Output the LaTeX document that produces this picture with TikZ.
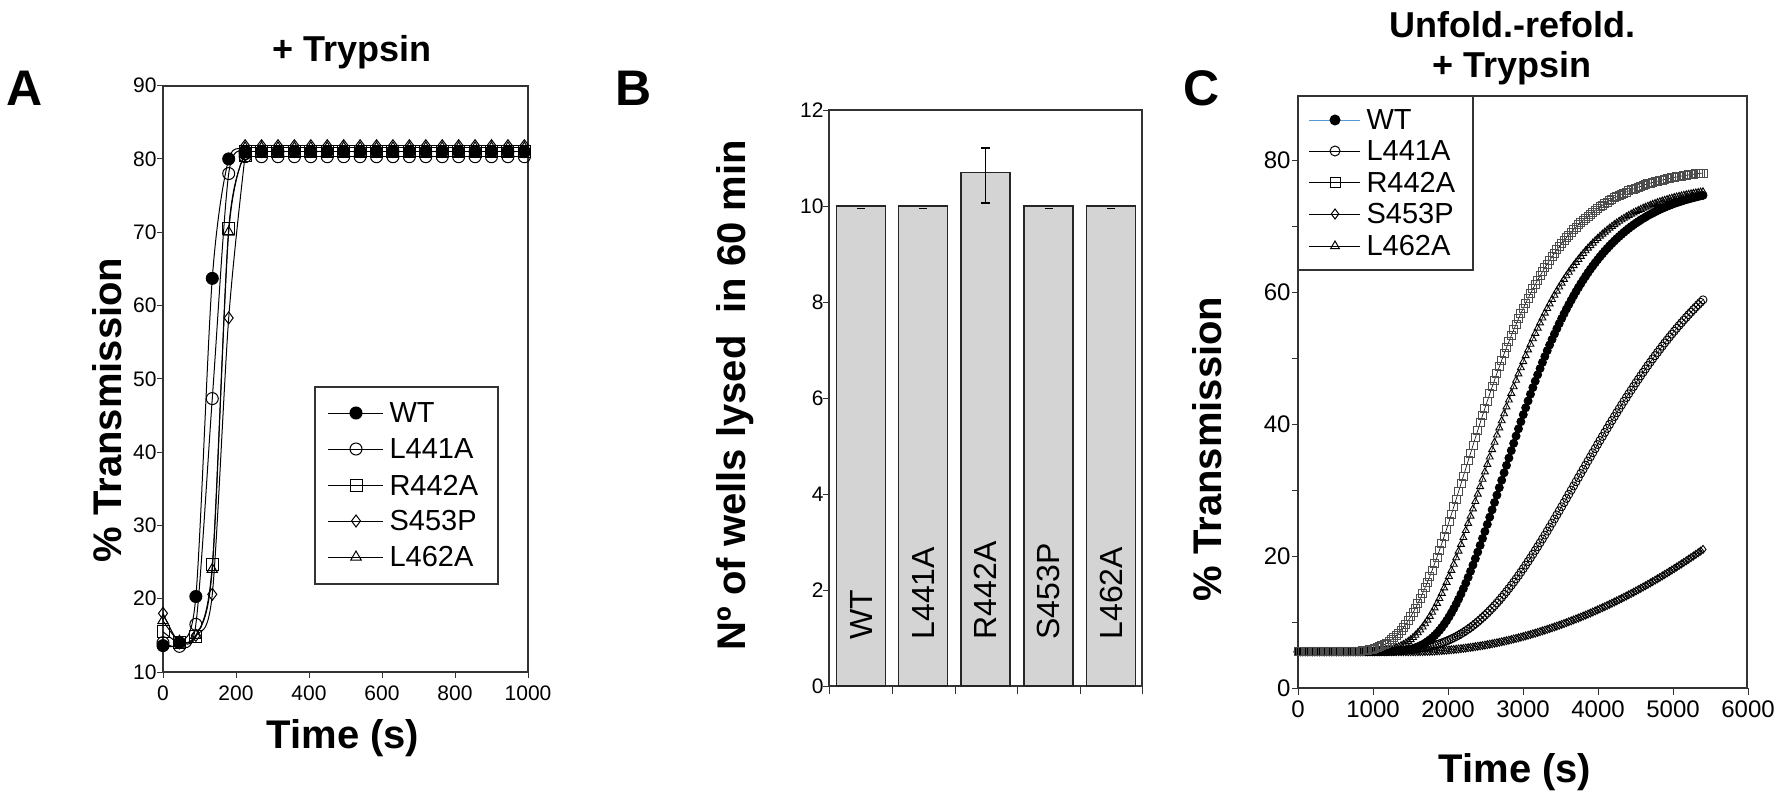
\documentclass[tikz,border=0pt]{standalone}
\usepackage{fontspec}
\setmainfont{Liberation Sans}
\usetikzlibrary{plotmarks}
\begin{document}
\begin{tikzpicture}[x=1pt,y=-1pt,
  declare function={ax(\t)=163+0.365*\t; ay(\v)=672-7.33*(\v-10);
    cx(\t)=1298+0.075*\t; cy(\v)=688-6.6*\v;
    gz(\t,\a,\m,\w)=5.5+\a*exp(-exp(-(\t-\m)/\w));},
  axisln/.style={draw=black!80,line width=1.3pt},
  tk/.style={font=\fontsize{21}{21}\selectfont},
  tkc/.style={font=\fontsize{24}{24}\selectfont},
  bl/.style={font=\fontsize{40}{40}\selectfont\bfseries},
  letter/.style={font=\fontsize{50}{50}\selectfont\bfseries},
  ttl/.style={font=\fontsize{36}{40}\selectfont\bfseries,align=center},
  leg/.style={font=\fontsize{29}{29}\selectfont,anchor=west},
  serA/.style={draw=black,line width=1pt,mark size=6,mark options={line width=1pt}},
  serC/.style={line width=0.6pt,mark size=4,mark options={line width=0.9pt}},
  bar/.style={fill=black!17,draw=black!85,line width=1.2pt}]
\useasboundingbox (0,0) rectangle (1784,800);
% ---------- Panel A ----------
\node[letter] (LA) at (25,88) {A};
\node[ttl] (TA) at (352,52) {+ Trypsin};
\draw[axisln] (163,86) rectangle (528,672);
\foreach \v in {10,20,...,90} {\draw[axisln,line width=1pt] (157,{ay(\v)}) -- (163,{ay(\v)});
  \node[tk,anchor=east] at (160,{ay(\v)}) {\v};}
\foreach \t in {0,200,...,1000} {\draw[axisln,line width=1pt] ({ax(\t)},672) -- ({ax(\t)},678);
  \node[tk,anchor=north] at ({ax(\t)},682) {\t};}
\node[bl,rotate=90] (YA) at (107,410) {\% Transmission};
\node[bl] (XA) at (343,738) {Time (s)};
% series
\draw[serA,mark=diamond] plot[smooth,tension=0.5] coordinates {({ax(0)},{ay(18)}) ({ax(45)},{ay(14)}) ({ax(90)},{ay(15)}) ({ax(135)},{ay(20.6)}) ({ax(180)},{ay(58.3)}) ({ax(225)},{ay(80.5)})};
\draw[serA,mark=diamond] plot[domain=225:990,samples=18] ({ax(\x)},{ay(81.8)});
\draw[serA,mark=triangle] plot[smooth,tension=0.5] coordinates {({ax(0)},{ay(17)}) ({ax(45)},{ay(14.2)}) ({ax(90)},{ay(15)}) ({ax(135)},{ay(24)}) ({ax(180)},{ay(70)}) ({ax(225)},{ay(80.8)})};
\draw[serA,mark=triangle] plot[domain=225:990,samples=18] ({ax(\x)},{ay(81.5)});
\draw[serA,mark=square] plot[smooth,tension=0.5] coordinates {({ax(0)},{ay(15.5)}) ({ax(45)},{ay(14)}) ({ax(90)},{ay(14.8)}) ({ax(135)},{ay(24.6)}) ({ax(180)},{ay(70.5)}) ({ax(225)},{ay(80.5)})};
\draw[serA,mark=square] plot[domain=225:990,samples=18] ({ax(\x)},{ay(81)});
\draw[serA,mark=o] plot[smooth,tension=0.5] coordinates {({ax(0)},{ay(14)}) ({ax(45)},{ay(13.5)}) ({ax(90)},{ay(16.5)}) ({ax(135)},{ay(47.3)}) ({ax(180)},{ay(78)}) ({ax(225)},{ay(80.7)})};
\draw[serA,mark=o] plot[domain=225:990,samples=18] ({ax(\x)},{ay(80.3)});
\draw[serA,mark=*] plot[smooth,tension=0.5] coordinates {({ax(0)},{ay(13.6)}) ({ax(45)},{ay(14)}) ({ax(90)},{ay(20.3)}) ({ax(135)},{ay(63.7)}) ({ax(180)},{ay(80)}) ({ax(225)},{ay(81)})};
\draw[serA,mark=*] plot[domain=225:990,samples=18] ({ax(\x)},{ay(81)});
% legend A
\draw[axisln,fill=white] (315,387) rectangle (498,584);
\foreach \y/\m/\t in {413/*/WT,449/o/L441A,485/square/R442A,521/diamond/S453P,557/triangle/L462A} {
  \draw[line width=1pt] (328,\y) -- (383,\y);
  \path[mark size=6,mark options={line width=1pt}] plot[mark=\m] coordinates {(356,\y)};
  \node[leg] at (386,\y) {\t};}
% ---------- Panel B ----------
\node[letter] (LB) at (634,88) {B};
\draw[axisln] (829,110) rectangle (1142,686);
\foreach \v in {0,2,...,12} {\draw[axisln,line width=1pt] (823,{686-48*\v}) -- (829,{686-48*\v});
  \node[tk,anchor=east] at (827,{686-48*\v}) {\v};}
\foreach \x in {829,892,955,1017,1080,1142} \draw[axisln,line width=1pt] (\x,686) -- (\x,694);
\foreach \c/\h/\t in {861/10/WT,923/10/L441A,985.5/10.7/R442A,1048.5/10/S453P,1111/10/L462A} {
  \draw[bar] ({\c-24.5},686) rectangle ({\c+24.5},{686-48*\h});
  \node[font=\fontsize{32}{32}\selectfont,rotate=90,anchor=west] at (\c,643) {\t};}
\foreach \c in {861,923,1048.5,1111} \draw[line width=1pt] ({\c-4},208) -- ({\c+4},208);
\draw[line width=1.2pt] (985.5,148) -- (985.5,203) (981,148) -- (990,148) (981,203) -- (990,203);
\node[bl,rotate=90] (YB) at (735,395) {Nº of wells lysed\ \ in 60 min};
% ---------- Panel C ----------
\node[letter] (LC) at (1202,88) {C};
\node[ttl] (TC) at (1512,48) {Unfold.-refold.\\+ Trypsin};
\draw[axisln] (1298,96) rectangle (1747,688);
\foreach \v in {0,10,...,80} \draw[axisln,line width=1pt] (1292,{cy(\v)}) -- (1298,{cy(\v)});
\foreach \v in {0,20,...,80} \node[tkc,anchor=east] at (1294,{cy(\v)}) {\v};
\foreach \t in {0,1000,...,6000} {\draw[axisln,line width=1pt] ({cx(\t)},688) -- ({cx(\t)},695);
  \node[tkc,anchor=north] at ({cx(\t)},697) {\t};}
\node[bl,rotate=90] (YC) at (1207,449) {\% Transmission};
\node[bl] (XC) at (1515,772) {Time (s)};
% series
\draw[serC,mark=diamond] plot[domain=0:5400,samples=170] ({cx(\x)},{cy(5.5+15.5*(max(\x-1500,0)/3900)^2)});
\draw[serC,mark=o] plot[domain=0:5400,samples=170] ({cx(\x)},{cy(gz(\x,70,3707,1302))});
\draw[serC,mark=*] plot[domain=0:5400,samples=170] ({cx(\x)},{cy(gz(\x,71,2720,740))});
\draw[serC,mark=triangle] plot[domain=0:5400,samples=170] ({cx(\x)},{cy(gz(\x,71,2460,740))});
\draw[serC,mark=square,mark options={draw=black!70,line width=0.9pt}] plot[domain=0:5400,samples=170] ({cx(\x)},{cy(gz(\x,73.5,2217,740))});
% legend C
\draw[axisln,fill=white] (1298,96) rectangle (1473,270);
\foreach \y/\m/\t/\col in {120/*/WT/cyan!60!blue!70,151/o/L441A/black,182/square/R442A/black,214/diamond/S453P/black,246/triangle/L462A/black} {
  \draw[line width=1pt,draw=\col] (1309,\y) -- (1360,\y);
  \path[mark size=5,mark options={line width=1pt}] plot[mark=\m] coordinates {(1335,\y)};
  \node[leg] at (1363,\y) {\t};}
\end{tikzpicture}
\end{document}
